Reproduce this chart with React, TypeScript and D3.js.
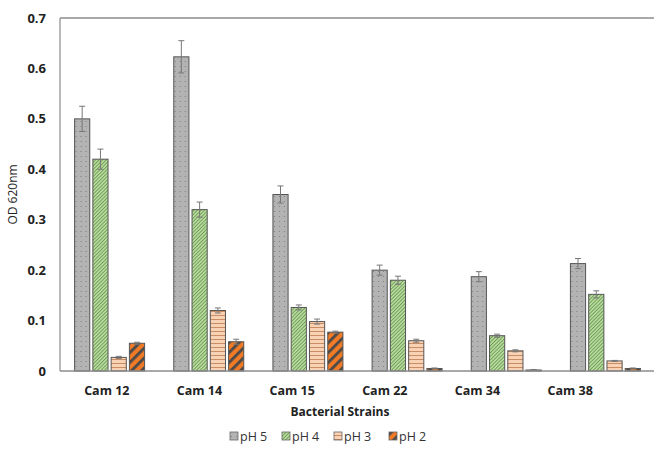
import React from "react";
import * as d3 from "d3";

const strains = ["Cam 12", "Cam 14", "Cam 15", "Cam 22", "Cam 34", "Cam 38"];
const seriesNames = ["pH 5", "pH 4", "pH 3", "pH 2"];
const ph5 = [0.5, 0.623, 0.35, 0.2, 0.187, 0.213];
const ph4 = [0.42, 0.32, 0.126, 0.18, 0.07, 0.152];
const ph3 = [0.027, 0.12, 0.098, 0.06, 0.04, 0.02];
const ph2 = [0.055, 0.058, 0.077, 0.005, 0.002, 0.005];
const ph5Err = [0.025, 0.032, 0.017, 0.01, 0.01, 0.01];
const ph4Err = [0.02, 0.015, 0.005, 0.008, 0.003, 0.007];
const ph3Err = [0.002, 0.005, 0.005, 0.003, 0.002, 0.001];
const ph2Err = [0.002, 0.005, 0.002, 0.001, 0.001, 0.001];
const yTicks = [0, 0.1, 0.2, 0.3, 0.4, 0.5, 0.6, 0.7];

const values = [ph5, ph4, ph3, ph2];
const errors = [ph5Err, ph4Err, ph3Err, ph2Err];
const patternIds = ["pDots", "pGreen", "pPeach", "pOrange"];

const W = 654;
const H = 453;
const left = 60;
const top = 18;
const bottom = 371;
const font = "'Open Sans', 'DejaVu Sans', sans-serif";

export default function App() {
  // bars and category labels don't line up exactly in the source image
  const x = d3.scaleBand().domain(strains).range([left, 655]);
  const xLabel = d3.scaleBand().domain(strains).range([60.5, 616.5]);
  const xs = d3.scaleBand().domain(seriesNames).range([0, 70]).paddingInner(0.17);
  const y = d3.scaleLinear().domain([0, 0.7]).range([bottom, top]);
  const groupOffset = (x.bandwidth() - 70) / 2;

  return (
    <svg width={W} height={H} style={{ position: "absolute", left: 0, top: 0 }}>
      <defs>
        <pattern id="pDots" width="5" height="5" patternUnits="userSpaceOnUse">
          <rect width="5" height="5" fill="#b3b3b3" />
          <rect x="1" y="1" width="1" height="1" fill="#7f7f7f" />
        </pattern>
        <pattern id="pGreen" width="2.5" height="2.5" patternUnits="userSpaceOnUse" patternTransform="rotate(45)">
          <rect width="2.5" height="2.5" fill="#b9dca0" />
          <rect width="0.9" height="2.5" fill="#6e9a52" />
        </pattern>
        <pattern id="pPeach" width="4" height="4" patternUnits="userSpaceOnUse">
          <rect width="4" height="4" fill="#f9d2b6" />
          <rect y="3" width="4" height="1" fill="#c98d63" />
        </pattern>
        <pattern id="pOrange" width="7" height="7" patternUnits="userSpaceOnUse" patternTransform="rotate(45)">
          <rect width="7" height="7" fill="#f07a26" />
          <rect width="2.8" height="7" fill="#4a4a4a" />
        </pattern>
      </defs>
      <rect width={W} height={H} fill="#fff" />
      <line x1={left} x2={W} y1={top} y2={top} stroke="#8c8c8c" strokeWidth={1.5} />
      <line x1={left} x2={left} y1={top} y2={bottom} stroke="#8c8c8c" strokeWidth={1.2} />

      {yTicks.map(t => (
        <text key={t} x={46} y={y(t)} dy="0.35em" textAnchor="end" fontFamily={font} fontWeight="bold" fontSize={13} fill="#222">
          {t === 0 ? "0" : t.toFixed(1)}
        </text>
      ))}
      <text transform={`translate(17,${(top + bottom) / 2}) rotate(-90)`} textAnchor="middle" fontFamily={font} fontSize={12} fill="#222">
        OD 620nm
      </text>

      {strains.map((s, i) => (
        <g key={s} transform={`translate(${x(s)! + groupOffset},0)`}>
          {seriesNames.map((n, j) => {
            const v = values[j][i];
            const e = errors[j][i];
            const bx = xs(n)!;
            const bw = xs.bandwidth();
            const cx = bx + bw / 2;
            return (
              <g key={n}>
                <rect x={bx} y={y(v)} width={bw} height={bottom - y(v)} fill={`url(#${patternIds[j]})`} stroke="#555" strokeWidth={1} />
                <line x1={cx} x2={cx} y1={y(v + e)} y2={y(v - e)} stroke="#777" strokeWidth={1} />
                <line x1={cx - 3} x2={cx + 3} y1={y(v + e)} y2={y(v + e)} stroke="#777" strokeWidth={1} />
                <line x1={cx - 3} x2={cx + 3} y1={y(v - e)} y2={y(v - e)} stroke="#777" strokeWidth={1} />
              </g>
            );
          })}
        </g>
      ))}
      {strains.map(s => (
        <text key={s} x={xLabel(s)! + xLabel.bandwidth() / 2} y={395} textAnchor="middle" fontFamily={font} fontWeight="bold" fontSize={12.5} fill="#222">
          {s}
        </text>
      ))}
      <line x1={left} x2={W} y1={bottom} y2={bottom} stroke="#8c8c8c" strokeWidth={1.5} />

      <text x={340} y={416} textAnchor="middle" fontFamily={font} fontWeight="bold" fontSize={12} fill="#222">
        Bacterial Strains
      </text>

      {seriesNames.map((n, j) => {
        const lx = [230, 282, 334, 389][j];
        return (
          <g key={n}>
            <rect x={lx} y={432} width={8} height={8} fill={`url(#${patternIds[j]})`} stroke="#666" strokeWidth={0.8} />
            <text x={lx + 10} y={440.5} fontFamily={font} fontSize={12.5} fill="#333">
              {n}
            </text>
          </g>
        );
      })}
    </svg>
  );
}
